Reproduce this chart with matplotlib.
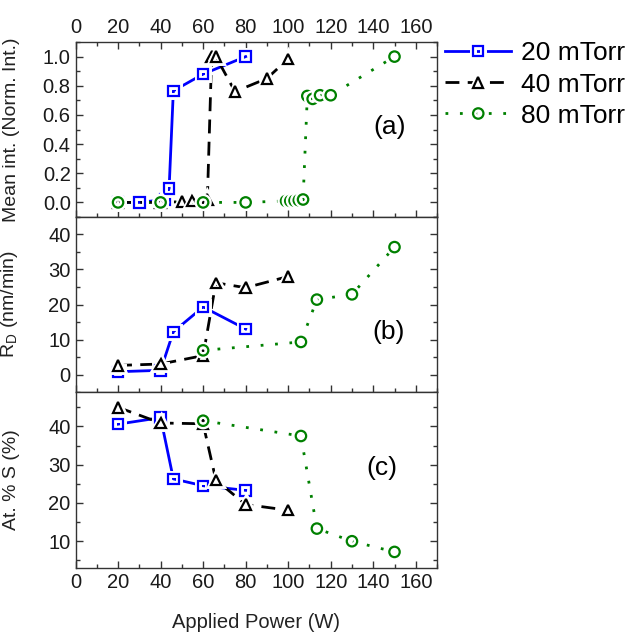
import numpy as np
import matplotlib
matplotlib.use('Agg')
import matplotlib.pyplot as plt
import matplotlib.patheffects as pe
from matplotlib.lines import Line2D
from matplotlib.ticker import MultipleLocator

plt.rcParams['font.family'] = ['Liberation Sans', 'DejaVu Sans']

# panel (a) - mean intensity (normalised)
a20_x = [20, 30, 42, 44, 46, 60, 80]
a20_y = [0.0, 0.0, 0.02, 0.095, 0.765, 0.88, 1.0]
a40_x = [20, 40, 50, 55, 62, 64, 66, 75, 90, 100]
a40_y = [0.0, 0.0, 0.005, 0.01, 0.02, 1.0, 1.0, 0.76, 0.85, 0.985]
a80_x = [20, 40, 60, 80, 99, 101, 103, 105, 107, 109, 111.5, 115, 120, 150]
a80_y = [0.0, 0.0, 0.0, 0.0, 0.01, 0.01, 0.012, 0.015, 0.02, 0.73, 0.71, 0.735, 0.735, 1.0]

# panel (b) - deposition rate
b20_x = [20, 40, 46, 60, 80]
b20_y = [0.8, 1.2, 12.2, 19.3, 13.0]
b40_x = [20, 40, 60, 66, 80, 100]
b40_y = [2.6, 3.0, 5.4, 26.2, 24.8, 28.0]
b80_x = [60, 106, 113.5, 130, 150]
b80_y = [6.9, 9.3, 21.4, 22.9, 36.4]

# panel (c) - at. % S
c20_x = [20, 40, 46, 60, 80]
c20_y = [40.6, 42.3, 26.3, 24.5, 23.3]
c40_x = [20, 40, 60, 66, 80, 100]
c40_y = [45.0, 40.9, 40.7, 26.0, 19.6, 18.1]
c80_x = [60, 106, 113.5, 130, 150]
c80_y = [41.5, 37.5, 13.3, 10.0, 7.2]

labels = ['20 mTorr', '40 mTorr', '80 mTorr']

styles = [
    dict(color='#0000ff', marker='s', ls='-'),
    dict(color='black', marker='^', ls=(0, (5, 3))),
    dict(color='#008000', marker='o', ls=(0, (1, 4.2))),
]
halo = [pe.withStroke(linewidth=5, foreground='white')]


def draw(ax, x, y, st):
    ax.plot(x, y, color=st['color'], ls=st['ls'], lw=2.0, zorder=2)
    ax.plot(x, y, ls='none', marker=st['marker'], ms=7.5, mfc='none',
            mec=st['color'], mew=1.6, zorder=3, path_effects=halo)


fig = plt.figure(figsize=(6.31, 6.33), dpi=100)
left, width = 0.1197, 0.5729
ax_a = fig.add_axes([left, 0.6572, width, 0.2764])
ax_b = fig.add_axes([left, 0.3807, width, 0.2765])
ax_c = fig.add_axes([left, 0.1027, width, 0.2780])

draw(ax_a, a20_x, a20_y, styles[0])
draw(ax_a, a40_x, a40_y, styles[1])
draw(ax_a, a80_x, a80_y, styles[2])
draw(ax_b, b20_x, b20_y, styles[0])
draw(ax_b, b40_x, b40_y, styles[1])
draw(ax_b, b80_x, b80_y, styles[2])
draw(ax_c, c20_x, c20_y, styles[0])
draw(ax_c, c40_x, c40_y, styles[1])
draw(ax_c, c80_x, c80_y, styles[2])

ax_a.set_ylim(-0.1, 1.1)
ax_b.set_ylim(-5, 45)
ax_c.set_ylim(3, 49)
ax_a.yaxis.set_major_locator(MultipleLocator(0.2))
ax_a.yaxis.set_minor_locator(MultipleLocator(0.1))
ax_a.yaxis.set_major_formatter(matplotlib.ticker.FormatStrFormatter('%.1f'))
ax_b.yaxis.set_major_locator(MultipleLocator(10))
ax_b.yaxis.set_minor_locator(MultipleLocator(5))
ax_c.yaxis.set_major_locator(MultipleLocator(10))
ax_c.yaxis.set_minor_locator(MultipleLocator(5))

for ax in (ax_a, ax_b, ax_c):
    ax.set_xlim(0, 170)
    ax.xaxis.set_major_locator(MultipleLocator(20))
    ax.xaxis.set_minor_locator(MultipleLocator(10))
    ax.tick_params(axis='both', which='both', direction='in', labelsize=14.5,
                   color='#333333', width=1.0, labelcolor='#1a1a1a')
    ax.tick_params(which='major', length=5)
    ax.tick_params(which='minor', length=3)
    ax.tick_params(axis='y', which='both', right=True, left=True)
    ax.tick_params(axis='x', which='both', top=False, bottom=True,
                   labelbottom=False)
    for s in ax.spines.values():
        s.set_color('#333333')
        s.set_linewidth(1.0)

ax_a.tick_params(axis='x', which='both', top=True, labeltop=True)
ax_a.set_xticks(np.arange(0, 161, 20))
ax_c.tick_params(axis='x', labelbottom=True)
ax_c.set_xticks(np.arange(0, 161, 20))

ax_a.set_ylabel('Mean int. (Norm. Int.)', fontsize=14, color='#222222')
ax_b.set_ylabel('R$_\\mathregular{D}$ (nm/min)', fontsize=14, color='#222222')
ax_c.set_ylabel('At. % S (%)', fontsize=14, color='#222222')
for ax in (ax_a, ax_b, ax_c):
    ax.yaxis.set_label_coords(-0.153, 0.5)
ax_c.set_xlabel('Applied Power (W)', fontsize=14.5, color='#222222', labelpad=15)

ax_a.text(0.87, 0.514, '(a)', transform=ax_a.transAxes, fontsize=19,
          ha='center', va='center')
ax_b.text(0.865, 0.343, '(b)', transform=ax_b.transAxes, fontsize=19,
          ha='center', va='center')
ax_c.text(0.848, 0.568, '(c)', transform=ax_c.transAxes, fontsize=19,
          ha='center', va='center')

handles = [Line2D([], [], color=st['color'], ls=st['ls'], lw=2.0,
                  marker=st['marker'], ms=7.5, mfc='none', mec=st['color'],
                  mew=1.6, path_effects=halo) for st in styles]
fig.legend(handles, labels, loc='upper left', bbox_to_anchor=(0.668, 0.972),
           frameon=False, fontsize=19, handlelength=2.5, handletextpad=0.36,
           labelspacing=0.27)

fig.savefig('out.png', dpi=100)
